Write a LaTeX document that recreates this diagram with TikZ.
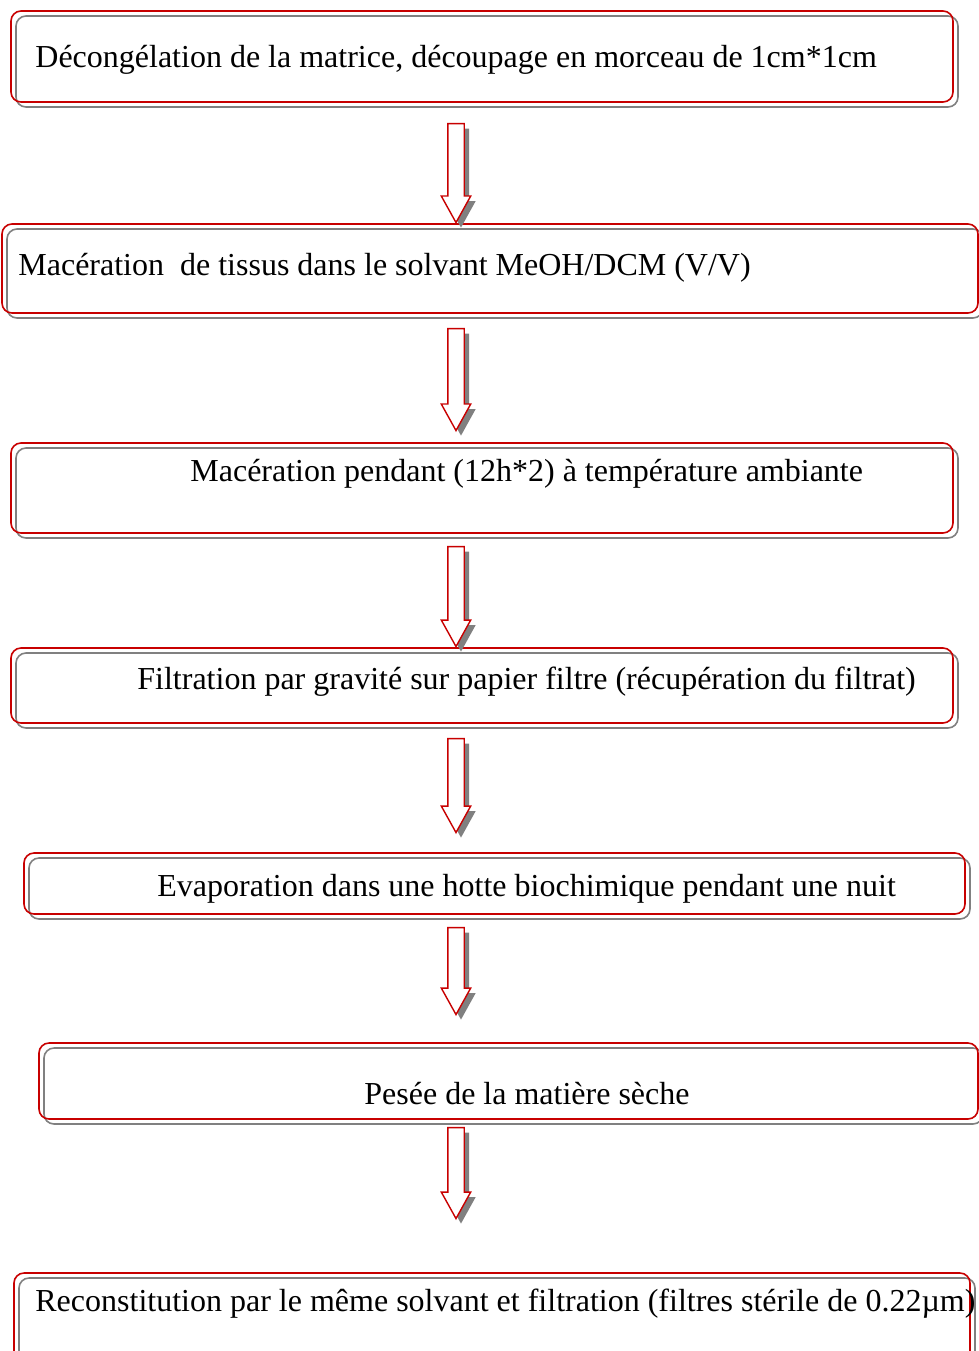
\documentclass[tikz,border=0pt]{standalone}
\usepackage{fontspec}
\setmainfont{Liberation Serif}
\usetikzlibrary{shapes.arrows,shadows,fit}
\definecolor{boxred}{RGB}{200,0,0}
\definecolor{shade}{RGB}{128,128,128}

\begin{document}
\begin{tikzpicture}[
    x=0.5pt, y=-0.5pt,
    stage/.style={rectangle, draw=boxred, line width=0.8pt, rounded corners=5pt, inner sep=0pt,
        general shadow={draw=shade, shadow xshift=2.5pt, shadow yshift=-2.5pt}},
    txt/.style={anchor=base west, inner sep=0pt, font=\fontsize{16}{19}\selectfont},
    down/.style={single arrow, draw=boxred, fill=white, line width=0.7pt, inner sep=3.75pt,
        minimum width=14pt, single arrow head extend=3.25pt, single arrow tip angle=58,
        shape border rotate=270, anchor=tip,
        general shadow={fill=shade, shadow xshift=2.5pt, shadow yshift=-2.5pt}}
]
\useasboundingbox (0,0) rectangle (979,1351);
\clip (0,0) rectangle (979,1351);
\node[stage, fit={(11,11) (953,102)}] (s1) {};
\node[stage, fit={(2,224) (978,313)}] (s2) {};
\node[stage, fit={(11,443) (953,533)}] (s3) {};
\node[stage, fit={(11,648) (953,723)}] (s4) {};
\node[stage, fit={(24,853) (965,914)}] (s5) {};
\node[stage, fit={(39,1043) (978,1119)}] (s6) {};
\node[stage, fit={(14,1273) (970,1380)}] (s7) {};

\node[txt] (t1) at (35,67) {Décongélation de la matrice, découpage en morceau de 1cm*1cm};
\node[txt] (t2) at (18,275) {Macération\ \ de tissus dans le solvant MeOH/DCM (V/V)};
\node[txt] (t3) at (190,481) {Macération pendant (12h*2) à température ambiante};
\node[txt] (t4) at (137,689) {Filtration par gravité sur papier filtre (récupération du filtrat)};
\node[txt] (t5) at (157,896) {Evaporation dans une hotte biochimique pendant une nuit};
\node[txt] (t6) at (364,1104) {Pesée de la matière sèche};
\node[txt] (t7) at (35,1311) {Reconstitution par le même solvant et filtration (filtres stérile de 0.22µm)};

\node[down, minimum height=49.5pt] (a1) at (456,224) {};
\node[down, minimum height=51pt] (a2) at (456,432) {};
\node[down, minimum height=50pt] (a3) at (456,648) {};
\node[down, minimum height=47pt] (a4) at (456,834) {};
\node[down, minimum height=43.5pt] (a5) at (456,1016) {};
\node[down, minimum height=45.5pt] (a6) at (456,1220) {};
\end{tikzpicture}
\end{document}
